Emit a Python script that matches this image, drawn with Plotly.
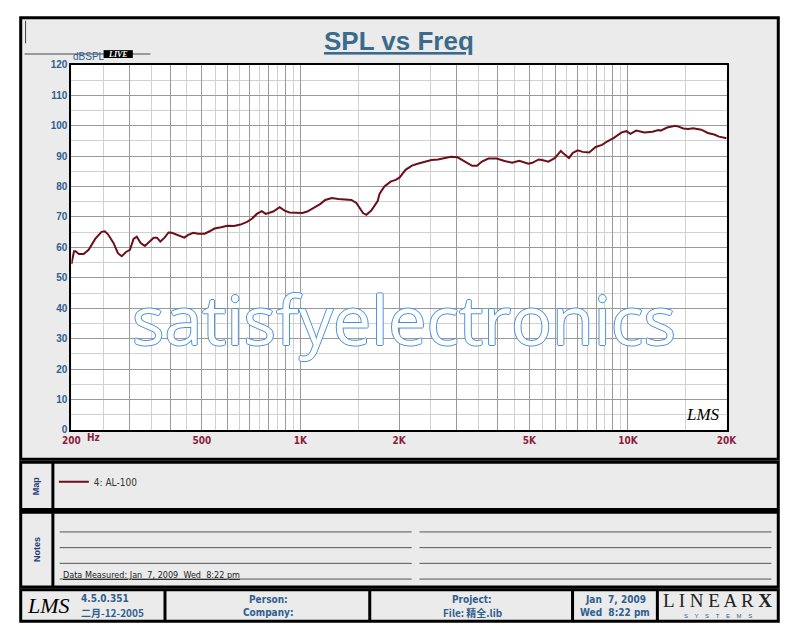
import math
import plotly.graph_objects as go

W, H = 800, 640

freq_hz = [
    200, 203.7, 205.9, 210.8, 217.9, 225.8, 236.4, 247.2, 252.9, 258.7,
    269.1, 277.3, 285.0, 293.6, 301.8, 309.6, 316.6, 325.4, 335.2, 344.5,
    356.6, 365.0, 373.6, 385, 395.8, 405.3, 419.5, 429.2, 442.3, 454.8,
    470.9, 487.4, 510.5, 528.3, 546.9, 572.5, 599.1, 627.2, 656.6, 687.2,
    711.3, 736.4, 762.3, 783.8, 807.8, 826.0, 864.4, 894.8, 926.1, 969.5,
    1015, 1050, 1100, 1152, 1191, 1247, 1306, 1367, 1431, 1482,
    1517, 1553, 1590, 1646, 1723, 1744, 1805, 1890, 1955, 2010,
    2094, 2190, 2294, 2402, 2513, 2630, 2754, 2882, 3018, 3160,
    3344, 3461, 3582, 3750, 3970, 4202, 4429, 4656, 4966, 5104,
    5340, 5466, 5718, 5988, 6239, 6412, 6604, 6788, 7025, 7270,
    7612, 7969, 8337, 8628, 9034, 9563, 9895, 10172, 10597, 11226,
    11882, 12383, 12578, 13171, 13940, 14268, 14766, 15277, 15810, 16735,
    17524, 18332, 18972, 20000,
]
spl_db = [
    54.5, 58.7, 58.7, 57.8, 57.8, 59.2, 62.8, 65.1, 65.3, 64.3,
    61.4, 58.1, 57.1, 58.5, 59.2, 62.8, 63.5, 61.4, 60.5, 61.6,
    63.2, 63.2, 61.9, 63.2, 64.9, 64.8, 64.1, 63.8, 63.2, 64.1,
    64.8, 64.5, 64.5, 65.3, 66.2, 66.6, 67.1, 67.0, 67.5, 68.4,
    69.4, 71.0, 71.9, 71.0, 71.6, 71.8, 73.2, 72.1, 71.5, 71.5,
    71.3, 71.8, 73.0, 74.3, 75.6, 76.2, 75.9, 75.7, 75.6, 74.6,
    72.9, 71.3, 70.7, 72.1, 75.3, 77.6, 80.0, 81.7, 82.2, 83.0,
    85.5, 86.9, 87.6, 88.2, 88.7, 88.9, 89.4, 89.8, 89.6, 88.4,
    86.8, 86.8, 88.2, 89.2, 89.2, 88.4, 87.8, 88.5, 87.5, 87.8,
    88.9, 88.7, 88.2, 89.4, 91.7, 90.5, 89.4, 91.1, 91.9, 91.4,
    91.2, 93.0, 93.7, 94.8, 95.9, 97.8, 98.2, 97.3, 98.4, 97.8,
    98.0, 98.6, 98.4, 99.4, 100.0, 99.7, 99.1, 98.9, 99.2, 98.7,
    97.6, 97.1, 96.4, 95.9,
]
trace_name = "4: AL-100"

# grid: darker lines at 1-2-3.. steps, lighter in between
x_major = [f * 100 for f in range(2, 11)] + [f * 1000 for f in range(2, 11)] + [20000]
x_minor = [f * 50 for f in range(5, 20, 2)] + [f * 500 for f in range(3, 20, 2)] + [15000]
x_labels = {200: "200", 500: "500", 1000: "1K", 2000: "2K", 5000: "5K",
            10000: "10K", 20000: "20K"}
y_ticks = list(range(0, 121, 10))
y_minor = list(range(5, 120, 10))

# page geometry in pixels
PLOT_L, PLOT_R, PLOT_T, PLOT_B = 64, 736, 60, 432
BLUE = "#2f5f8f"
MAROON = "#8b1c3c"
NARROW = "Liberation Sans Narrow, DejaVu Sans Condensed, Arial Narrow, sans-serif"
SANS = "Liberation Sans, Arial, sans-serif"
CJK = "Liberation Sans Narrow, Noto Sans CJK SC, sans-serif"


def px(x):
    return x / W


def py(y):
    return 1 - y / H


def rect(x0, y0, x1, y1, fill="#ebebeb", line="black", width=3):
    return dict(type="rect", xref="paper", yref="paper", layer="below",
                x0=px(x0), x1=px(x1), y0=py(y0), y1=py(y1),
                fillcolor=fill, line=dict(color=line, width=width))


def hline(x0, x1, y, color="#555555", width=1):
    return dict(type="line", xref="paper", yref="paper", layer="below",
                x0=px(x0), x1=px(x1), y0=py(y), y1=py(y),
                line=dict(color=color, width=width))


def vline(x, y0, y1, color="black", width=3):
    return dict(type="line", xref="paper", yref="paper", layer="below",
                x0=px(x), x1=px(x), y0=py(y0), y1=py(y1),
                line=dict(color=color, width=width))


def note(x, y, text, size=10, color=BLUE, family=NARROW, xanchor="center", **kw):
    return dict(x=px(x), y=py(y), xref="paper", yref="paper", text=text,
                showarrow=False, xanchor=xanchor, yanchor="middle",
                font=dict(size=size, color=color, family=family), **kw)


fig = go.Figure()
fig.add_trace(go.Scatter(
    x=freq_hz, y=spl_db, mode="lines", name=trace_name,
    line=dict(color="#6b0f1a", width=2),
))

shapes = [
    rect(12, 12, 789, 462),
    rect(PLOT_L, PLOT_T, PLOT_R, PLOT_B, fill="white", line="black", width=0),
    rect(12, 465, 789, 513),
    vline(45, 465, 513),
    rect(12, 516, 789, 592),
    vline(45, 516, 592),
    rect(12, 595, 789, 627),
    # header decorations
    hline(16, 145, 49, color="#999999", width=2),
    vline(17, 15, 38, color="#444444", width=1),
    dict(type="rect", xref="paper", yref="paper", layer="below",
         x0=px(97), x1=px(127), y0=py(45), y1=py(53),
         fillcolor="black", line=dict(width=0)),
]
for xd in [160, 370, 578, 665]:
    shapes.append(vline(xd, 595, 627))
for yl in [536, 552, 568, 584]:
    shapes.append(hline(52, 413, yl))
    shapes.append(hline(421, 782, yl))

annotations = [
    note(400, 36, "<b><u>SPL vs Freq</u></b>", size=26, color="#3a6b8c", family=SANS),
    note(64, 51, "dBSPL", size=10, color=BLUE, family=SANS, xanchor="left"),
    note(112, 49, "<b><i>LIVE</i></b>", size=8, color="white",
         family="Liberation Serif, serif"),
    note(78, 440, "<b>Hz</b>", size=10, color=MAROON, xanchor="left"),
    note(405, 318, "satisfyelectronics", size=68, color="white",
         family="Open Sans, sans-serif"),
    note(712, 416, "<i>LMS</i>", size=17, color="black",
         family="Liberation Serif, serif"),
    note(28, 489, "<b>Map</b>", size=9, color="#1f3d7a", family=SANS, textangle=-90),
    note(28, 554, "<b>Notes</b>", size=9, color="#1f3d7a", family=SANS, textangle=-90),
    note(53, 580, "<u>Data Measured: Jan  7, 2009  Wed  8:22 pm</u>", size=9,
         color="#222222", xanchor="left"),
    note(40, 611, "<i>LMS</i>", size=22, color="black", family="Liberation Serif, serif"),
    note(72, 604, "<b>4.5.0.351</b>", size=10, xanchor="left"),
    note(72, 618, "<b>二月-12-2005</b>", size=10, xanchor="left", family=CJK),
    note(266, 605, "<b>Person:</b>", size=10),
    note(266, 618, "<b>Company:</b>", size=10),
    note(475, 605, "<b>Project:</b>", size=10),
    note(475, 618, "<b>File: 精全.lib</b>", size=10, family=CJK),
    note(622, 605, "<b>Jan  7, 2009</b>", size=10),
    note(622, 618, "<b>Wed  8:22 pm</b>", size=10),
    note(727, 606, "L I N E A R <b>X</b>", size=19, color="#222222",
         family="Liberation Serif, serif"),
    note(727, 622, "S    Y    S    T    E    M    S", size=6, color=BLUE, family=SANS),
]
# hollow watermark: white letters with a thin blue rim
annotations[4]["font"]["shadow"] = ("1px 0 0 #4a90d9, -1px 0 0 #4a90d9, "
                                    "0 1px 0 #4a90d9, 0 -1px 0 #4a90d9")

fig.update_layout(
    autosize=True,
    margin=dict(l=0, r=0, t=0, b=0),
    paper_bgcolor="white",
    plot_bgcolor="white",
    shapes=shapes,
    annotations=annotations,
    showlegend=True,
    legend=dict(x=px(46), y=py(470), xanchor="left", yanchor="top",
                bgcolor="rgba(0,0,0,0)", itemwidth=30,
                font=dict(size=10, color="#333333", family=NARROW)),
    xaxis=dict(
        type="log",
        domain=[px(PLOT_L), px(PLOT_R)],
        range=[math.log10(200), math.log10(20000)],
        tickmode="array",
        tickvals=[200] + x_major,
        ticktext=[x_labels.get(v, "") for v in [200] + x_major],
        tickfont=dict(size=10, color=MAROON, family=NARROW, weight="bold"),
        ticks="", showgrid=True, gridcolor="#9a9a9a", gridwidth=1,
        minor=dict(tickmode="array", tickvals=x_minor, showgrid=True,
                   gridcolor="#d2d2d2", ticks=""),
        showline=True, linecolor="black", linewidth=2, mirror=True,
        zeroline=False, fixedrange=True,
    ),
    yaxis=dict(
        domain=[py(PLOT_B), py(PLOT_T)],
        range=[0, 120],
        tickmode="array", tickvals=y_ticks,
        tickfont=dict(size=10, color=BLUE, family=SANS, weight="bold"),
        ticks="", showgrid=True, gridcolor="#9a9a9a", gridwidth=1,
        minor=dict(tickmode="array", tickvals=y_minor, showgrid=True,
                   gridcolor="#d2d2d2", ticks=""),
        showline=True, linecolor="black", linewidth=2, mirror=True,
        zeroline=False, fixedrange=True,
    ),
)

# fill the whole window; the default body margin would shift the page
fig.write_html("out.html", default_width="100vw", default_height="100vh",
               config={"displayModeBar": False, "responsive": True},
               post_script="document.body.style.margin='0';"
                           "document.body.style.overflow='hidden';")
